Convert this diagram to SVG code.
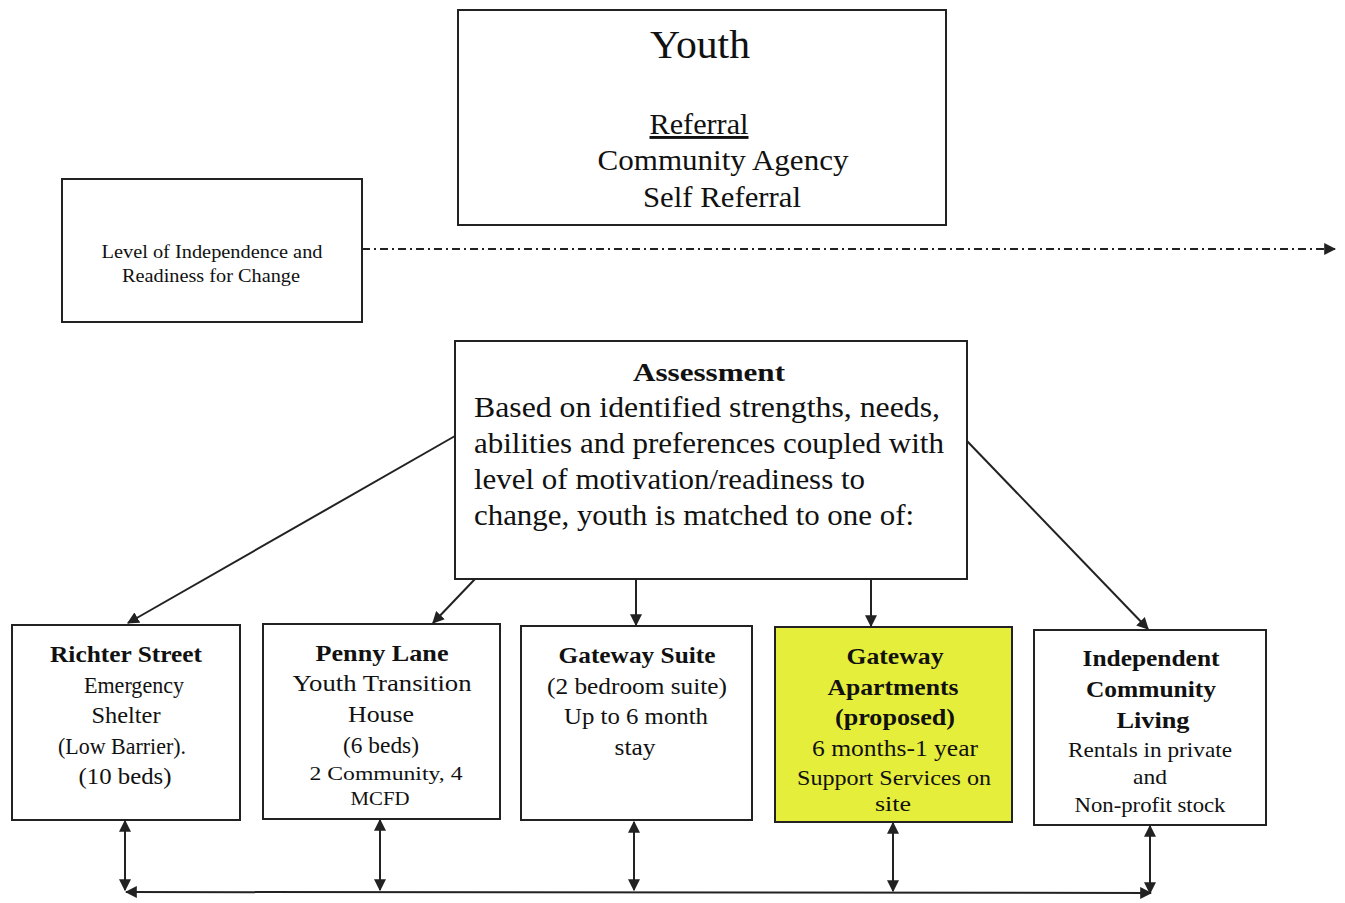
<svg xmlns="http://www.w3.org/2000/svg" width="1345" height="903" viewBox="0 0 1345 903">
<defs>
<style>
.box{fill:#fff;stroke:#222;stroke-width:2}
.t{font-family:"Liberation Serif","Times New Roman",serif;fill:#111;text-anchor:middle}
.s{text-anchor:start}
.b{font-weight:bold}
.ln{stroke:#222;stroke-width:2;fill:none}
</style>
<marker id="ah2" viewBox="0 0 10 10" refX="9" refY="5" markerWidth="12" markerHeight="12" orient="auto-start-reverse" markerUnits="userSpaceOnUse">
<path d="M0,0 L10,5 L0,10 z" fill="#222"/>
</marker>
</defs>
<rect width="1345" height="903" fill="#fff"/>

<g id="youth">
<rect class="box" x="458" y="10" width="488" height="215"/>
<text class="t" x="700" y="58" font-size="39" textLength="100" lengthAdjust="spacingAndGlyphs">Youth</text>
<text class="t" x="699" y="134" font-size="29" text-decoration="underline" textLength="99" lengthAdjust="spacingAndGlyphs">Referral</text>
<text class="t" x="723" y="170" font-size="29" textLength="251" lengthAdjust="spacingAndGlyphs">Community Agency</text>
<text class="t" x="722" y="207" font-size="29" textLength="158" lengthAdjust="spacingAndGlyphs">Self Referral</text>
</g>

<g id="level">
<rect class="box" x="62" y="179" width="300" height="143"/>
<text class="t" x="212" y="258" font-size="18" textLength="221" lengthAdjust="spacingAndGlyphs">Level of Independence and</text>
<text class="t" x="211" y="282" font-size="18" textLength="178" lengthAdjust="spacingAndGlyphs">Readiness for Change</text>
</g>

<g id="assessment">
<rect class="box" x="455" y="341" width="512" height="238"/>
<text class="t b" x="709" y="381" font-size="25" textLength="152" lengthAdjust="spacingAndGlyphs">Assessment</text>
<text class="t s" x="474" y="417" font-size="29" textLength="466" lengthAdjust="spacingAndGlyphs">Based on identified strengths, needs,</text>
<text class="t s" x="474" y="453" font-size="29" textLength="470" lengthAdjust="spacingAndGlyphs">abilities and preferences coupled with</text>
<text class="t s" x="474" y="489" font-size="29" textLength="391" lengthAdjust="spacingAndGlyphs">level of motivation/readiness to</text>
<text class="t s" x="474" y="525" font-size="29" textLength="440" lengthAdjust="spacingAndGlyphs">change, youth is matched to one of:</text>
</g>

<g id="richter">
<rect class="box" x="12" y="625" width="228" height="195"/>
<text class="t b" x="126" y="662" font-size="24" textLength="152" lengthAdjust="spacingAndGlyphs">Richter Street</text>
<text class="t" x="134" y="693" font-size="24" textLength="100" lengthAdjust="spacingAndGlyphs">Emergency</text>
<text class="t" x="126" y="723" font-size="24" textLength="69" lengthAdjust="spacingAndGlyphs">Shelter</text>
<text class="t" x="122" y="754" font-size="24" textLength="128" lengthAdjust="spacingAndGlyphs">(Low Barrier).</text>
<text class="t" x="125" y="784" font-size="24" textLength="93" lengthAdjust="spacingAndGlyphs">(10 beds)</text>
</g>

<g id="penny">
<rect class="box" x="263" y="624" width="237" height="195"/>
<text class="t b" x="382" y="661" font-size="24" textLength="133" lengthAdjust="spacingAndGlyphs">Penny Lane</text>
<text class="t" x="382" y="691" font-size="24" textLength="179" lengthAdjust="spacingAndGlyphs">Youth Transition</text>
<text class="t" x="381" y="722" font-size="24" textLength="66" lengthAdjust="spacingAndGlyphs">House</text>
<text class="t" x="381" y="753" font-size="24" textLength="76" lengthAdjust="spacingAndGlyphs">(6 beds)</text>
<text class="t" x="386" y="780" font-size="19" textLength="153" lengthAdjust="spacingAndGlyphs">2 Community, 4</text>
<text class="t" x="380" y="805" font-size="19" textLength="59" lengthAdjust="spacingAndGlyphs">MCFD</text>
</g>

<g id="gatewaysuite">
<rect class="box" x="521" y="626" width="231" height="194"/>
<text class="t b" x="637" y="663" font-size="24" textLength="157" lengthAdjust="spacingAndGlyphs">Gateway Suite</text>
<text class="t" x="637" y="694" font-size="24" textLength="180" lengthAdjust="spacingAndGlyphs">(2 bedroom suite)</text>
<text class="t" x="636" y="724" font-size="24" textLength="144" lengthAdjust="spacingAndGlyphs">Up to 6 month</text>
<text class="t" x="635" y="755" font-size="24" textLength="41" lengthAdjust="spacingAndGlyphs">stay</text>
</g>

<g id="gatewayapts">
<rect class="box" x="775" y="627" width="237" height="195" style="fill:#e6ee3c"/>
<text class="t b" x="895" y="664" font-size="24" textLength="97" lengthAdjust="spacingAndGlyphs">Gateway</text>
<text class="t b" x="893" y="695" font-size="24" textLength="131" lengthAdjust="spacingAndGlyphs">Apartments</text>
<text class="t b" x="895" y="725" font-size="24" textLength="120" lengthAdjust="spacingAndGlyphs">(proposed)</text>
<text class="t" x="895" y="756" font-size="24" textLength="166" lengthAdjust="spacingAndGlyphs">6 months-1 year</text>
<text class="t" x="894" y="785" font-size="21" textLength="194" lengthAdjust="spacingAndGlyphs">Support Services on</text>
<text class="t" x="893" y="811" font-size="21" textLength="36" lengthAdjust="spacingAndGlyphs">site</text>
</g>

<g id="independent">
<rect class="box" x="1034" y="630" width="232" height="195"/>
<text class="t b" x="1151" y="666" font-size="24" textLength="137" lengthAdjust="spacingAndGlyphs">Independent</text>
<text class="t b" x="1151" y="697" font-size="24" textLength="130" lengthAdjust="spacingAndGlyphs">Community</text>
<text class="t b" x="1153" y="728" font-size="24" textLength="73" lengthAdjust="spacingAndGlyphs">Living</text>
<text class="t" x="1150" y="757" font-size="21" textLength="164" lengthAdjust="spacingAndGlyphs">Rentals in private</text>
<text class="t" x="1150" y="784" font-size="21" textLength="34" lengthAdjust="spacingAndGlyphs">and</text>
<text class="t" x="1150" y="812" font-size="21" textLength="151" lengthAdjust="spacingAndGlyphs">Non-profit stock</text>
</g>

<g id="connectors">
<line class="ln" x1="362" y1="249" x2="1335" y2="249" stroke-dasharray="8,4,2,4" marker-end="url(#ah2)"/>
<line class="ln" x1="455" y1="436" x2="128" y2="623" marker-end="url(#ah2)"/>
<line class="ln" x1="475" y1="579" x2="433" y2="623" marker-end="url(#ah2)"/>
<line class="ln" x1="636" y1="579" x2="636" y2="625" marker-end="url(#ah2)"/>
<line class="ln" x1="871" y1="579" x2="871" y2="626" marker-end="url(#ah2)"/>
<line class="ln" x1="967" y1="441" x2="1148" y2="629" marker-end="url(#ah2)"/>
<line class="ln" x1="125" y1="821" x2="125" y2="890" marker-start="url(#ah2)" marker-end="url(#ah2)"/>
<line class="ln" x1="380" y1="820" x2="380" y2="890" marker-start="url(#ah2)" marker-end="url(#ah2)"/>
<line class="ln" x1="634" y1="822" x2="634" y2="890" marker-start="url(#ah2)" marker-end="url(#ah2)"/>
<line class="ln" x1="893" y1="823" x2="893" y2="891" marker-start="url(#ah2)" marker-end="url(#ah2)"/>
<line class="ln" x1="1150" y1="826" x2="1150" y2="893" marker-start="url(#ah2)" marker-end="url(#ah2)"/>
<line class="ln" x1="126" y1="892" x2="1151" y2="893" marker-start="url(#ah2)" marker-end="url(#ah2)"/>
</g>
</svg>
